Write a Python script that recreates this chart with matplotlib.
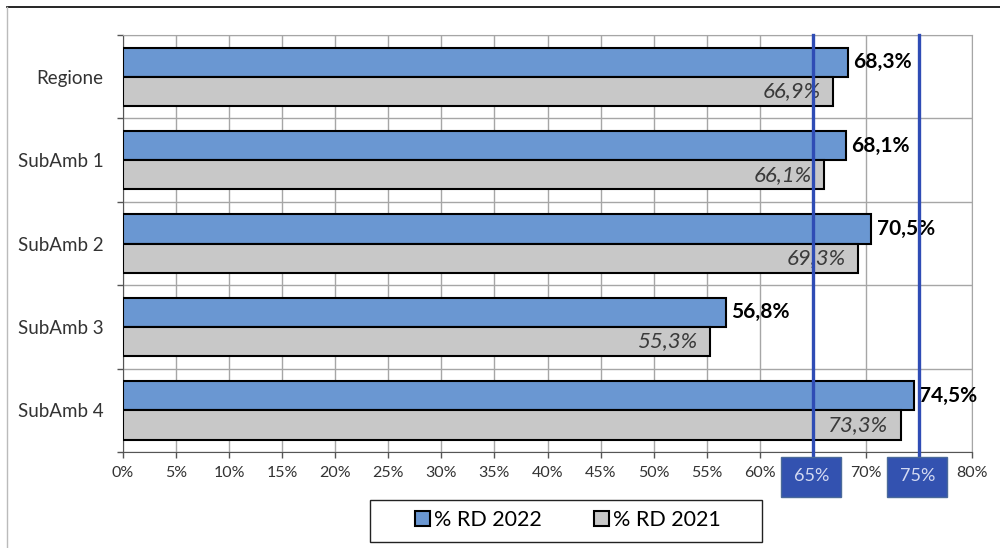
import numpy as np
import matplotlib
matplotlib.use('Agg')
import matplotlib.pyplot as plt
from matplotlib.patches import Rectangle
from matplotlib.lines import Line2D
import matplotlib.transforms as mtransforms

plt.rcParams['font.family'] = ['Lato', 'DejaVu Sans']

categories = ['Regione', 'SubAmb 1', 'SubAmb 2', 'SubAmb 3', 'SubAmb 4']
rd_2022 = [68.3, 68.1, 70.5, 56.8, 74.5]
rd_2021 = [66.9, 66.1, 69.3, 55.3, 73.3]
thresholds = [65, 75]
xticks = list(range(0, 85, 5))

blue = '#6A97D2'
grey = '#C8C8C8'
line_blue = '#2F4CB5'

fig = plt.figure(figsize=(10, 5.48), dpi=100)
ax = fig.add_axes([0.123, 0.175, 0.849, 0.761])

y = np.arange(len(categories))
h = 0.35
ax.barh(y - h / 2, rd_2022, height=h, color=blue, edgecolor='black', linewidth=1.5, zorder=3)
ax.barh(y + h / 2, rd_2021, height=h, color=grey, edgecolor='black', linewidth=1.5, zorder=3)

for i in range(len(categories)):
    v = rd_2022[i]
    ax.annotate(('%.1f%%' % v).replace('.', ','), (v, y[i] - h / 2), xytext=(4, 0),
                textcoords='offset points', ha='left', va='center',
                fontsize=15, fontweight='bold', color='black', zorder=5)
    v = rd_2021[i]
    ax.annotate(('%.1f%%' % v).replace('.', ','), (v, y[i] + h / 2), xytext=(-9, 0),
                textcoords='offset points', ha='right', va='center',
                fontsize=16, fontstyle='italic', color='#3A3A3A', zorder=5)

ax.set_xlim(0, 80)
ax.set_ylim(len(categories) - 0.5, -0.5)
ax.set_xticks(xticks)
# 65% and 75% labels sit under the target boxes
ax.set_xticklabels(['' if t in thresholds else '%d%%' % t for t in xticks],
                   fontsize=11.5, color='#333333')
ax.tick_params(axis='x', length=4, width=1, pad=6, color='#555555')

ax.set_yticks(np.arange(len(categories) + 1) - 0.5)
ax.set_yticklabels([])
ax.tick_params(axis='y', which='major', length=4, width=1, color='#555555')
ax.set_yticks(y, minor=True)
ax.set_yticklabels(categories, minor=True, fontsize=13.5, color='#333333')
ax.tick_params(axis='y', which='minor', length=0, pad=14)

ax.grid(True, which='major', color='#A6A6A6', linewidth=1, zorder=0)
ax.set_axisbelow(True)
for s in ['top', 'right']:
    ax.spines[s].set_color('#A6A6A6')
ax.spines['left'].set_color('#555555')
ax.spines['bottom'].set_color('#555555')

# target lines with value boxes
trans = mtransforms.blended_transform_factory(ax.transData, ax.transAxes)
for t in thresholds:
    ax.plot([t, t], [1.0, -0.02], color=line_blue, linewidth=2.4, transform=trans,
            clip_on=False, zorder=6)
    ax.add_patch(Rectangle((t - 3.0, -0.108), 5.65, 0.096, transform=trans,
                           facecolor='#3352B0', edgecolor='#4A6A9A', linewidth=1,
                           clip_on=False, zorder=7))
    ax.text(t - 0.15, -0.058, '%d%%' % t, transform=trans, ha='center', va='center',
            fontsize=13, color='#D4DAF2', zorder=8)

# legend with separate frame
handles = [Rectangle((0, 0), 1, 1, facecolor=blue, edgecolor='black', linewidth=1.5),
           Rectangle((0, 0), 1, 1, facecolor=grey, edgecolor='black', linewidth=1.5)]
fig.legend(handles, ['% RD 2022', '% RD 2021'], loc='center', bbox_to_anchor=(0.568, 0.051),
           ncol=2, frameon=False, fontsize=15.5, handlelength=0.7, handleheight=0.7,
           handletextpad=0.2, columnspacing=2.4)
fig.patches.append(Rectangle((0.370, 0.011), 0.392, 0.0766, transform=fig.transFigure,
                             fill=False, edgecolor='#222222', linewidth=1))

# outer chart border
fig.lines.append(Line2D([0.007, 1.0], [1 - 7 / 548, 1 - 7 / 548], transform=fig.transFigure,
                        color='black', linewidth=1.2))
fig.lines.append(Line2D([0.007, 0.007], [0.0, 1 - 7 / 548], transform=fig.transFigure,
                        color='#BBBBBB', linewidth=1))

fig.savefig('out.png', dpi=100)
